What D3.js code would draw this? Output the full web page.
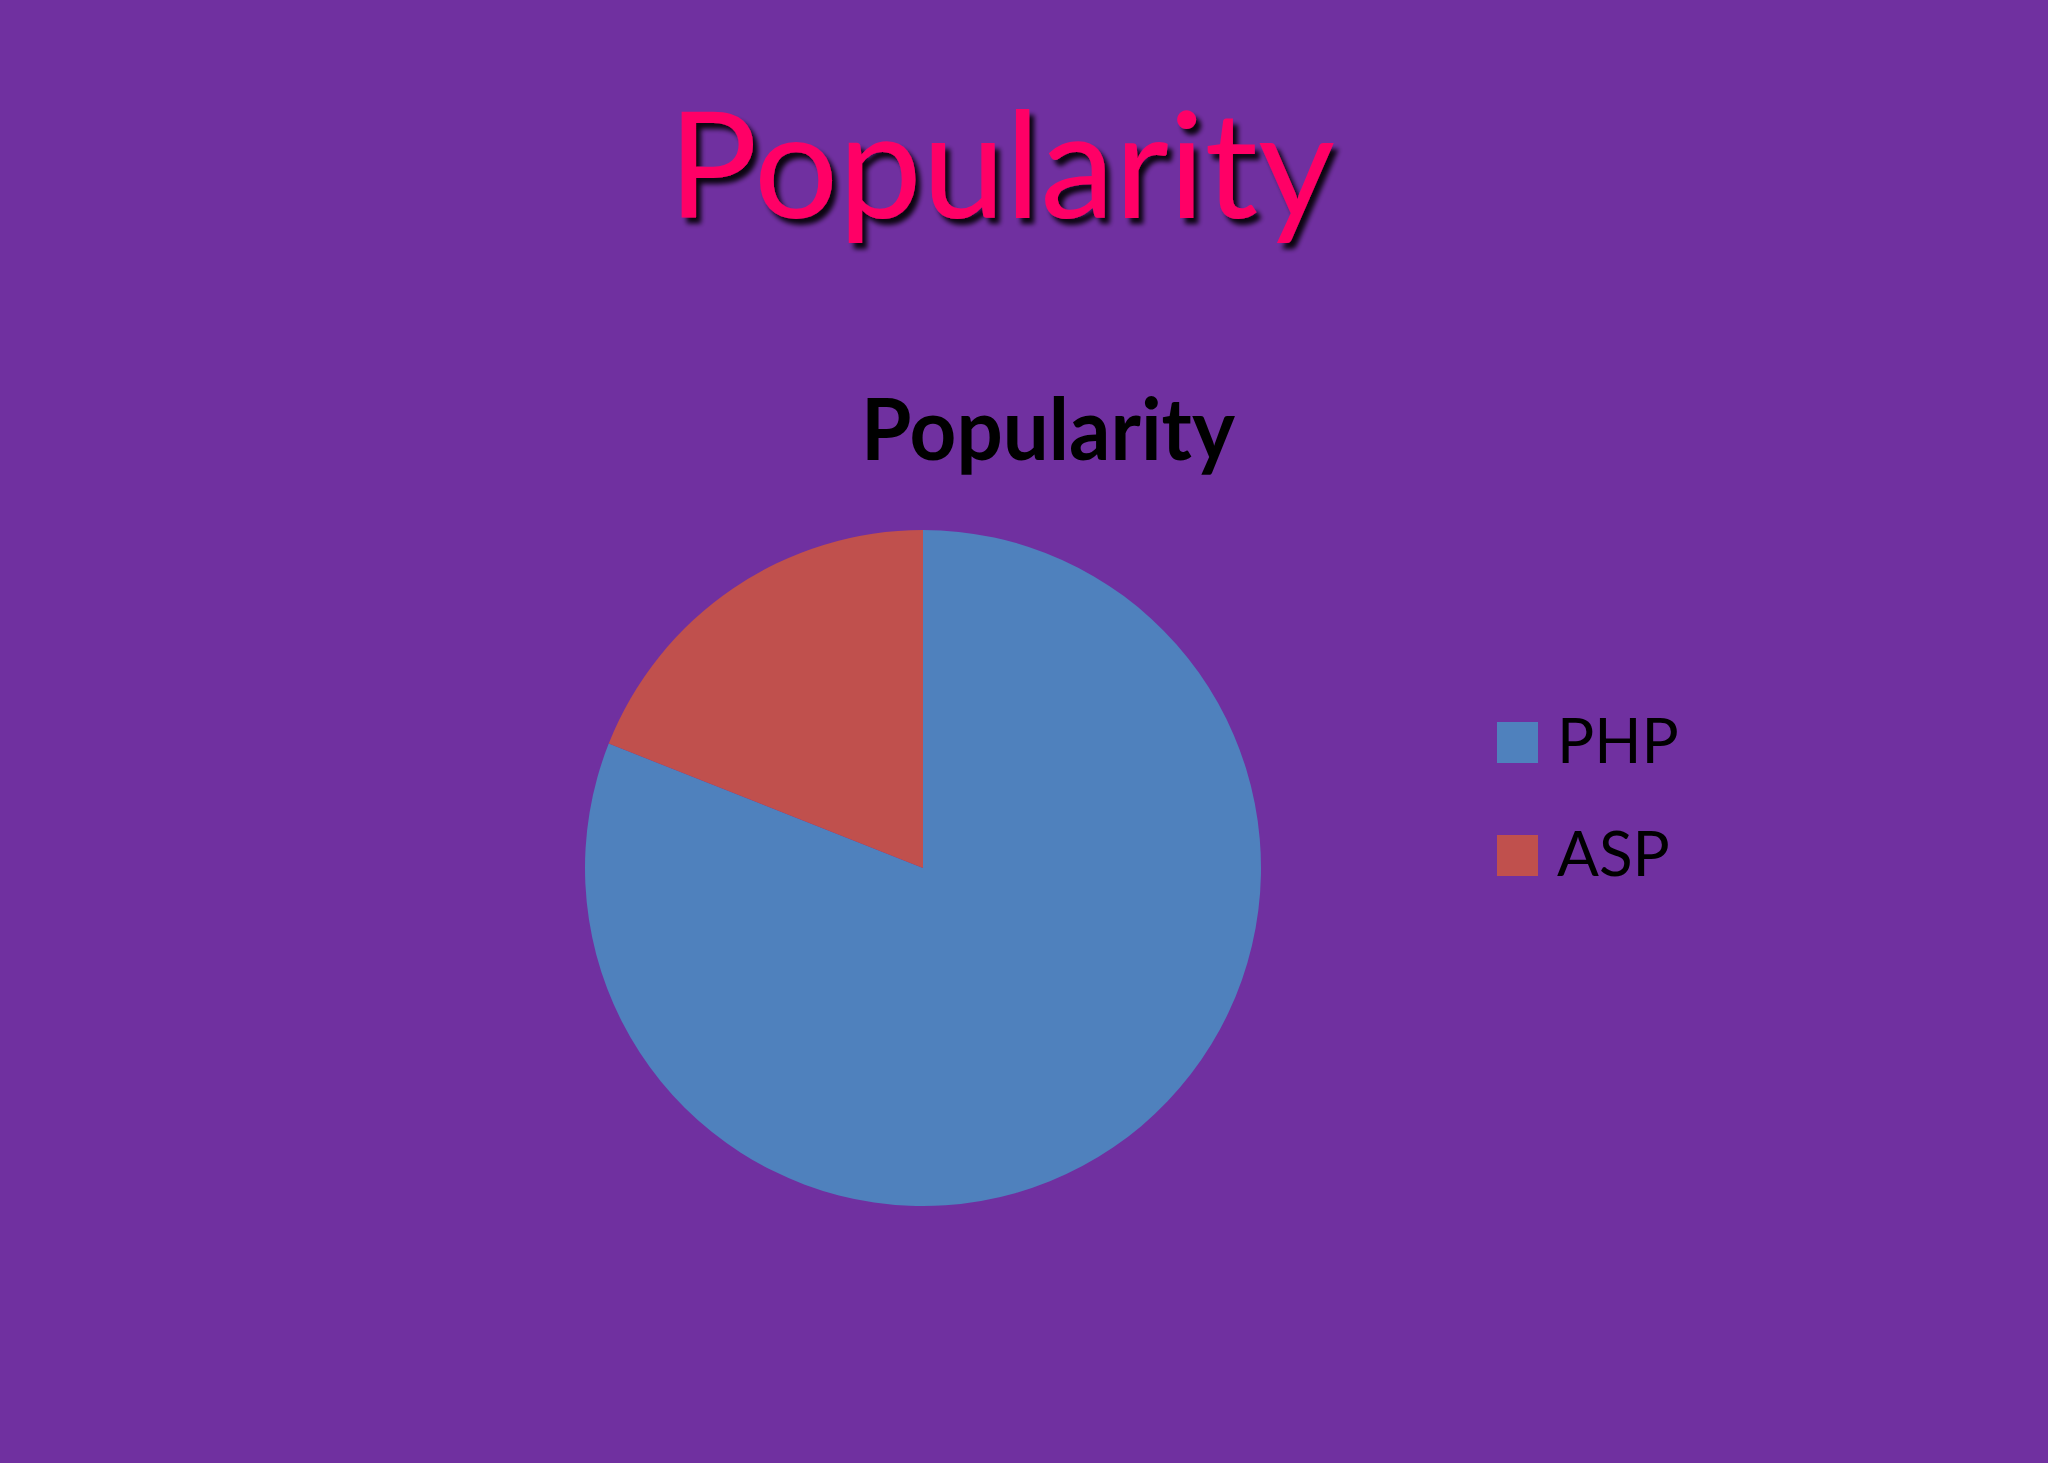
<!DOCTYPE html>
<html><head><meta charset="utf-8">
<script src="https://cdn.jsdelivr.net/npm/d3@7"></script>
<style>html,body{margin:0;padding:0;background:#7030A0;}svg{display:block;}</style>
</head><body>
<script>
const categories = ["PHP", "ASP"];
const values = [81, 19];
const colors = ["#4F81BD", "#C0504D"];
const slideTitle = "Popularity";
const chartTitle = "Popularity";

const W = 2048, H = 1463;
const svg = d3.select("body").append("svg").attr("width", W).attr("height", H);
svg.append("rect").attr("width", W).attr("height", H).attr("fill", "#7030A0");

const defs = svg.append("defs");
const f = defs.append("filter").attr("id", "sh").attr("x", "-10%").attr("y", "-10%").attr("width", "130%").attr("height", "140%");
f.append("feGaussianBlur").attr("in", "SourceAlpha").attr("stdDeviation", 2.5).attr("result", "b");
f.append("feOffset").attr("in", "b").attr("dx", 5).attr("dy", 6).attr("result", "o");
f.append("feComponentTransfer").attr("in", "o").attr("result", "o2")
  .append("feFuncA").attr("type", "linear").attr("slope", 0.9);
const m = f.append("feMerge");
m.append("feMergeNode").attr("in", "o2");
m.append("feMergeNode").attr("in", "SourceGraphic");

// slide title
svg.append("text").attr("x", 668).attr("y", 218)
  .attr("font-family", "Lato, 'Open Sans', sans-serif").attr("font-size", 148)
  .attr("fill", "#FF0066").attr("textLength", 667).attr("lengthAdjust", "spacingAndGlyphs")
  .attr("filter", "url(#sh)").text(slideTitle);

// chart title
svg.append("text").attr("x", 861).attr("y", 460)
  .attr("font-family", "Lato, 'Open Sans', sans-serif").attr("font-weight", "bold").attr("font-size", 86)
  .attr("fill", "#000").attr("textLength", 374).attr("lengthAdjust", "spacingAndGlyphs")
  .text(chartTitle);

// pie
const cx = 923, cy = 868, r = 338;
const pie = d3.pie().sort(null).value(d => d.v);
const arc = d3.arc().innerRadius(0).outerRadius(r);
const data = categories.map((c, i) => ({c, v: values[i], col: colors[i]}));
svg.append("g").attr("transform", `translate(${cx},${cy})`)
  .selectAll("path").data(pie(data)).join("path")
  .attr("d", arc).attr("fill", d => d.data.col);

// legend
const ly = d3.scalePoint().domain(categories).range([742.5, 855.5]);
const lg = svg.append("g").selectAll("g").data(data).join("g")
  .attr("transform", d => `translate(1497,${ly(d.c)})`);
lg.append("rect").attr("x", 0).attr("y", -20.5).attr("width", 41).attr("height", 41).attr("fill", d => d.col);
lg.append("text").attr("x", 60).attr("y", 20.8)
  .attr("font-family", "Lato, 'Open Sans', sans-serif").attr("font-size", 62)
  .attr("fill", "#000").text(d => d.c);
</script>
</body></html>
